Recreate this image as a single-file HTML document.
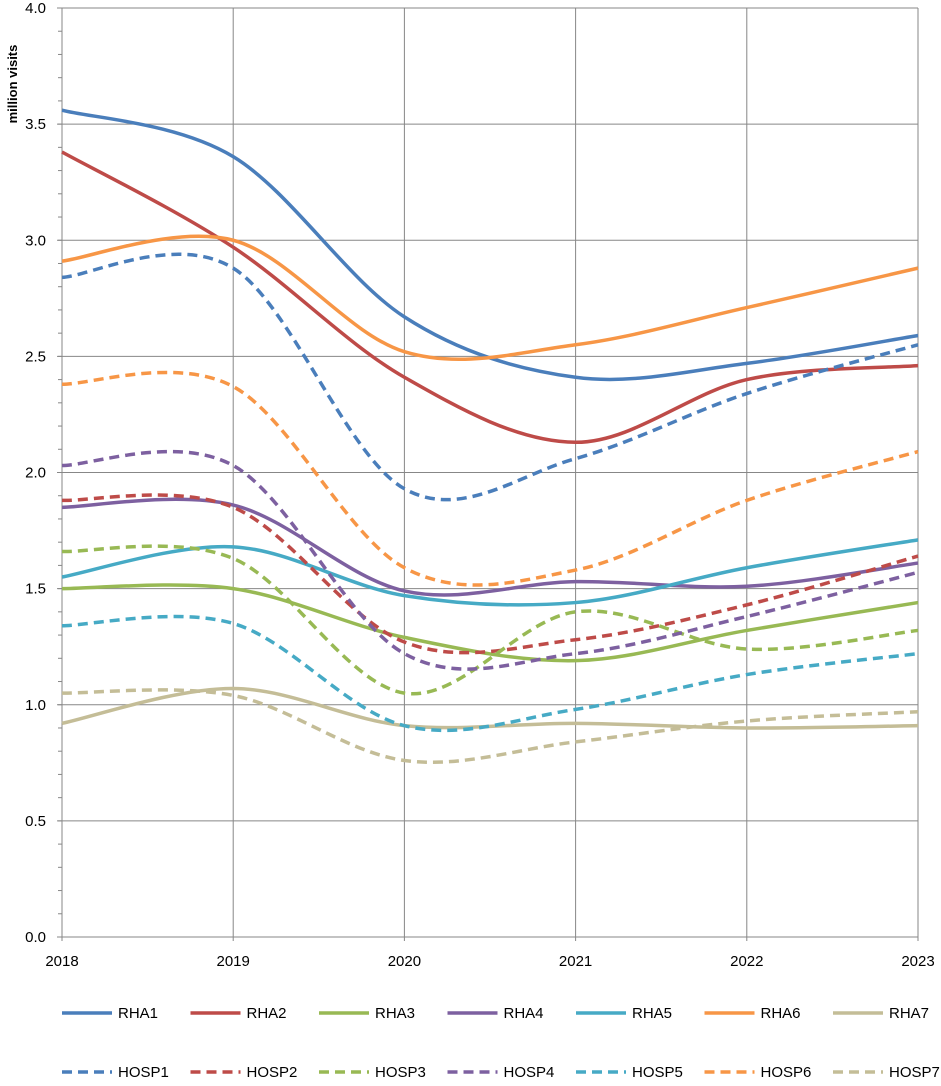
<!DOCTYPE html>
<html><head><meta charset="utf-8"><style>
body{margin:0;background:#fff;font-family:"Liberation Sans",Arial,sans-serif;}
svg text{font-family:"Liberation Sans",Arial,sans-serif;}
</style></head><body>
<svg id="chart" width="941" height="1081" xmlns="http://www.w3.org/2000/svg">
<g id="grid"></g>
<g id="series"></g>
<g id="axes"></g>
<g id="legend"></g>
<text transform="translate(17,84) rotate(-90)" text-anchor="middle" font-size="13" font-weight="bold" fill="#000">million visits</text>
</svg>
<script>
const years = [2018, 2019, 2020, 2021, 2022, 2023];
const yTicks = [0, 0.5, 1.0, 1.5, 2.0, 2.5, 3.0, 3.5, 4.0];
const seriesNames = ["RHA1","RHA2","RHA3","RHA4","RHA5","RHA6","RHA7","HOSP1","HOSP2","HOSP3","HOSP4","HOSP5","HOSP6","HOSP7"];
const RHA1 = [3.56, 3.36, 2.67, 2.41, 2.47, 2.59];
const RHA2 = [3.38, 2.97, 2.41, 2.13, 2.40, 2.46];
const RHA3 = [1.50, 1.50, 1.29, 1.19, 1.32, 1.44];
const RHA4 = [1.85, 1.86, 1.49, 1.53, 1.51, 1.61];
const RHA5 = [1.55, 1.68, 1.47, 1.44, 1.59, 1.71];
const RHA6 = [2.91, 3.00, 2.52, 2.55, 2.71, 2.88];
const RHA7 = [0.92, 1.07, 0.91, 0.92, 0.90, 0.91];
const HOSP1 = [2.84, 2.88, 1.93, 2.06, 2.34, 2.55];
const HOSP2 = [1.88, 1.85, 1.27, 1.28, 1.43, 1.64];
const HOSP3 = [1.66, 1.63, 1.05, 1.40, 1.24, 1.32];
const HOSP4 = [2.03, 2.03, 1.22, 1.22, 1.38, 1.57];
const HOSP5 = [1.34, 1.35, 0.91, 0.98, 1.13, 1.22];
const HOSP6 = [2.38, 2.37, 1.59, 1.58, 1.88, 2.09];
const HOSP7 = [1.05, 1.04, 0.76, 0.84, 0.93, 0.97];
const seriesValues = [RHA1,RHA2,RHA3,RHA4,RHA5,RHA6,RHA7,HOSP1,HOSP2,HOSP3,HOSP4,HOSP5,HOSP6,HOSP7];
const palette = ["#4a7ebb","#be4b48","#98b954","#7d60a0","#46aac5","#f79646","#c4bd97"];

const NS="http://www.w3.org/2000/svg";
const L=62,R=918,T=8,B=937;
const xS=v=>L+(v-years[0])/(years[years.length-1]-years[0])*(R-L);
const yS=v=>B-(v/4)*(B-T);
function mk(tag,attrs,parent){const e=document.createElementNS(NS,tag);for(const k in attrs)e.setAttribute(k,attrs[k]);parent.appendChild(e);return e;}
const grid=document.getElementById('grid'),axes=document.getElementById('axes'),sg=document.getElementById('series'),lg=document.getElementById('legend');
for(let k=0;k<=40;k++){
  const tk=mk('line',{x1:L-4,x2:L,y1:yS(k/10),y2:yS(k/10),stroke:'#878787','stroke-width':1},axes);
  
  
}
yTicks.forEach(t=>{
  const ln=mk('line',{x1:L-5,x2:R,y1:yS(t),y2:yS(t),stroke:'#878787','stroke-width':1},grid);
  
  
  const tx=mk('text',{x:46,y:yS(t)+5,'text-anchor':'end','font-size':15,fill:'#000'},axes);
  tx.textContent=t.toFixed(1);
  
  
});
years.forEach(yr=>{
  const ln=mk('line',{x1:xS(yr),x2:xS(yr),y1:T,y2:B+4,stroke:'#878787','stroke-width':1},grid);
  
  
  const tx=mk('text',{x:xS(yr),y:966,'text-anchor':'middle','font-size':15,fill:'#000'},axes);
  tx.textContent=yr;
  
  
});
function smooth(vals){
  const p=vals.map((v,i)=>[xS(years[i]),yS(v)]);
  let d=`M${p[0][0]},${p[0][1]}`;
  for(let i=0;i<p.length-1;i++){
    const p0=p[Math.max(0,i-1)],p1=p[i],p2=p[i+1],p3=p[Math.min(p.length-1,i+2)];
    const c1=[p1[0]+(p2[0]-p0[0])/6,p1[1]+(p2[1]-p0[1])/6];
    const c2=[p2[0]-(p3[0]-p1[0])/6,p2[1]-(p3[1]-p1[1])/6];
    d+=` C${c1[0]},${c1[1]} ${c2[0]},${c2[1]} ${p2[0]},${p2[1]}`;
  }
  return d;
}
seriesValues.forEach((vals,i)=>{
  const dashed=i>=7;
  const a={d:smooth(vals),fill:'none',stroke:palette[i%7],'stroke-width':3.5};
  if(dashed)a['stroke-dasharray']='10,6';
  const pth=mk('path',a,sg);
  
  
});
seriesNames.forEach((n,i)=>{
  const col=i%7,row=Math.floor(i/7);
  const x0=62+col*128.5,y0=row?1072:1013;
  const g=mk('g',{},lg);
  
  
  const a={x1:x0,x2:x0+50,y1:y0,y2:y0,stroke:palette[col],'stroke-width':3.5};
  if(row)a['stroke-dasharray']='10,6';
  mk('line',a,g);
  const tx=mk('text',{x:x0+56,y:y0+5,'font-size':15,fill:'#000'},g);
  tx.textContent=n;
});
</script>
</body></html>
